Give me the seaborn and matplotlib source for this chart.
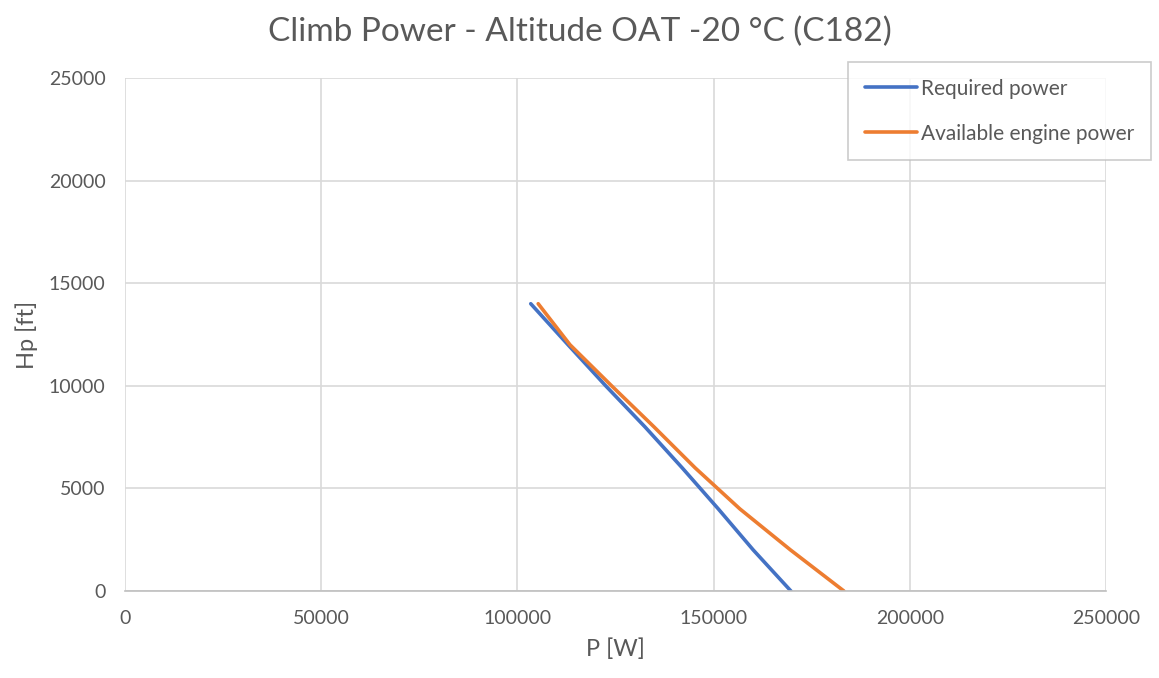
import seaborn as sns
import matplotlib.pyplot as plt
import pandas as pd

# Values
altitude_ft = [0, 2000, 4000, 6000, 8000, 10000, 12000, 14000]
required_w = [169700, 160100, 151200, 142000, 132500, 122500, 112900, 103400]
available_w = [183200, 169600, 156700, 145300, 134800, 124000, 113400, 105300]
series_names = ["Required power", "Available engine power"]
series_colors = ["#4472C4", "#ED7D31"]

df = pd.concat([
    pd.DataFrame({"P": required_w, "Hp": altitude_ft, "series": series_names[0]}),
    pd.DataFrame({"P": available_w, "Hp": altitude_ft, "series": series_names[1]}),
])

sns.set_style("white")
plt.rcParams["font.family"] = ["Lato", "DejaVu Sans"]
text_col = "#595959"
grid_col = "#D9D9D9"

fig = plt.figure(figsize=(11.59, 6.78), dpi=100)
ax = fig.add_axes([125 / 1159, 1 - 591 / 678, 981 / 1159, 513 / 678])

sns.lineplot(data=df, x="P", y="Hp", hue="series", palette=series_colors,
             sort=False, estimator=None, linewidth=2.6, ax=ax, legend=False)

ax.set_xlim(0, 250000)
ax.set_ylim(0, 25000)
ax.set_xticks(range(0, 250001, 50000))
ax.set_yticks(range(0, 25001, 5000))
ax.grid(True, color=grid_col, linewidth=1.2)
ax.set_axisbelow(True)
for side in ["top", "right", "left"]:
    ax.spines[side].set_visible(False)
ax.spines["bottom"].set_color("#BFBFBF")
ax.spines["bottom"].set_linewidth(1.2)
ax.tick_params(length=0, labelsize=14, colors=text_col, pad=14)

ax.set_xlabel("P [W]", fontsize=17, color=text_col, labelpad=8)
ax.set_ylabel("Hp [ft]", fontsize=17, color=text_col, labelpad=8)
fig.suptitle("Climb Power - Altitude OAT -20 °C (C182)", fontsize=24,
             color=text_col, y=0.975)

handles = [plt.Line2D([], [], color=c, linewidth=2.6) for c in series_colors]
leg = fig.legend(handles, series_names, loc="upper left",
                 bbox_to_anchor=(848 / 1159, 1 - 62 / 678),
                 frameon=True, fancybox=False, fontsize=15,
                 handlelength=2.5, handletextpad=0.2, borderpad=0.8,
                 labelspacing=1.2, borderaxespad=0)
leg.get_frame().set_edgecolor("#BFBFBF")
leg.get_frame().set_linewidth(1.2)
for t in leg.get_texts():
    t.set_color(text_col)

fig.savefig("out.png", dpi=100)
plt.close(fig)
